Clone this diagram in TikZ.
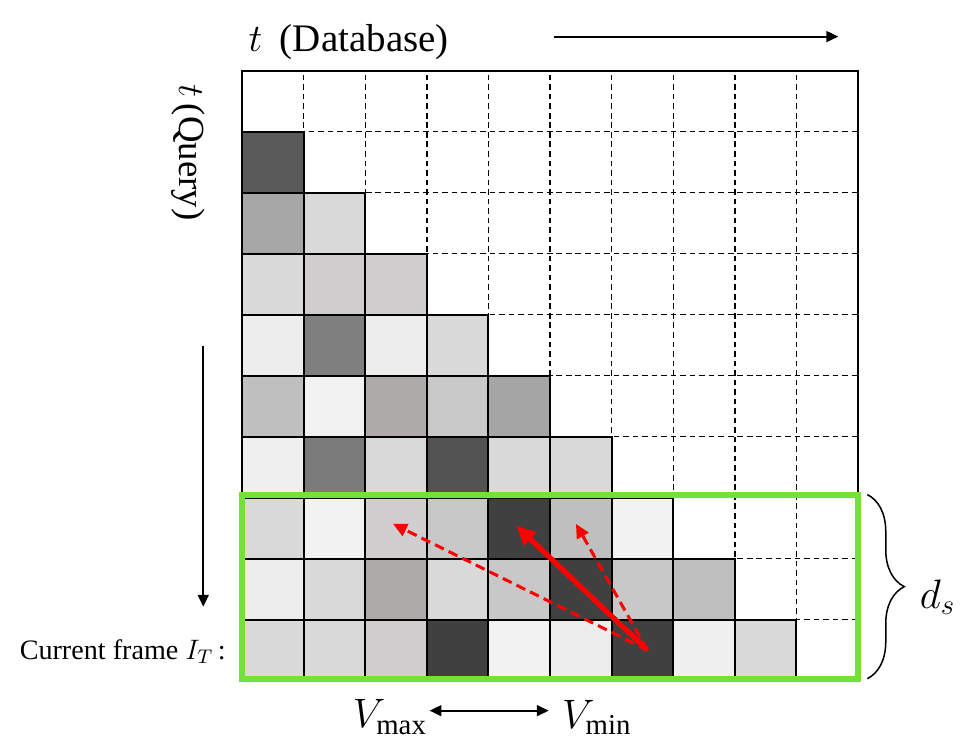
\documentclass[tikz,border=0pt]{standalone}
\usepackage{fix-cm}
\usepackage{fontspec}
\setmainfont{Liberation Serif}
\usetikzlibrary{arrows.meta,decorations.pathreplacing}
\definecolor{framegreen}{HTML}{72E23A}
\definecolor{arrowred}{HTML}{FF0000}

\begin{document}
\begin{tikzpicture}[x=1cm,y=0.99cm,
    cell/.style={draw=black,line width=0.9pt},
    gridline/.style={line width=0.6pt,dash pattern=on 2.6pt off 1.8pt},
    axisarrow/.style={line width=0.9pt,-{Triangle[length=5.5pt,width=5pt]}},
    matchsolid/.style={arrowred,line width=2.4pt,-{Triangle[length=9pt,width=8pt]}},
    matchdash/.style={arrowred,line width=1.4pt,dash pattern=on 4.5pt off 2.5pt,-{Triangle[length=6.5pt,width=6pt]}}]

      \useasboundingbox (-3.93,-1.066) rectangle (11.98,11.16);

      \foreach \k in {1,...,9} {
        \draw[gridline] (\k,0) -- (\k,10);
        \draw[gridline] (0,\k) -- (10,\k);
      }

      \foreach \row/\cols in {1/{5A5A5A},
                              2/{A6A6A6,D9D9D9},
                              3/{D9D9D9,CFCDCE,D0CECE},
                              4/{EDEDED,7F7F7F,EDEDED,D9D9D9},
                              5/{BFBFBF,F2F2F2,AEAAAA,C9C9C9,A5A5A5},
                              6/{EFEFEF,7B7B7B,D9D9D9,525252,D9D9D9,D9D9D9},
                              7/{D9D9D9,F2F2F2,D0CECE,C8C8C8,404040,BFBFBF,F2F2F2},
                              8/{EDEDED,D9D9D9,AEAAAA,D9D9D9,C8C8C8,404040,C8C8C8,BFBFBF},
                              9/{D9D9D9,D9D9D9,D0CECE,404040,F2F2F2,EDEDED,404040,F0F0F0,D9D9D9}} {
        \foreach \hex [count=\col from 0] in \cols {
          \edef\setcell{\noexpand\definecolor{cellfill}{HTML}{\hex}}\setcell
          \draw[cell,fill=cellfill] (\col,9-\row) rectangle ++(1,1);
        }
      }

      \draw[cell] (0,0) rectangle (10,10);

      \draw[framegreen,line width=2.6pt] (0,0.03) rectangle (10,3.04);

      \coordinate (cur) at (6.58,0.5);
      \coordinate (far) at (2.45,2.57);
      \coordinate (best) at (4.45,2.54);
      \coordinate (near) at (5.42,2.57);

      \draw[matchdash] (cur) -- (far);
      \draw[matchdash] (cur) -- (near);
      \draw[matchsolid] (cur) -- (best);

      \node[anchor=base west,font=\fontsize{18}{20}\selectfont,inner sep=0pt] (dbtitle) at (0.1,10.31) {$t$\hspace{0.45em}(Database)};
      \coordinate (dbstart) at (5.06,10.56);
      \coordinate (dbend) at (9.68,10.56);
      \draw[axisarrow] (dbstart) -- (dbend);

      \node[rotate=-90,font=\fontsize{17}{19}\selectfont] (qtitle) at (-0.88,8.66) {$t$\,(Query)};
      \coordinate (qstart) at (-0.63,5.49);
      \coordinate (qend) at (-0.63,1.21);
      \draw[axisarrow] (qstart) -- (qend);

      \node[anchor=east,font=\fontsize{13}{15}\selectfont] (curlabel) at (-0.14,0.47) {Current frame $I_T$\,:};

      \node[font=\fontsize{19}{21}\selectfont,inner sep=1pt] (vmax) at (2.4,-0.6) {$V_{\mathrm{max}}$};
      \node[font=\fontsize{19}{21}\selectfont,inner sep=1pt] (vmin) at (5.76,-0.6) {$V_{\mathrm{min}}$};
      \draw[line width=0.9pt,{Triangle[length=5.5pt,width=5pt]}-{Triangle[length=5.5pt,width=5pt]},shorten >=5pt]
        ([yshift=3pt]vmax.east) -- ([yshift=3pt]vmin.west);

      \coordinate (bracetop) at (10.15,3.05);
      \coordinate (bracebot) at (10.15,0.03);
      \draw[line width=0.7pt,decorate,decoration={brace,amplitude=0.6cm}] (bracetop) -- (bracebot);
      \node[anchor=west,font=\fontsize{19}{21}\selectfont] (ds) at (10.88,1.36) {$d_s$};

    \end{tikzpicture}
\end{document}
